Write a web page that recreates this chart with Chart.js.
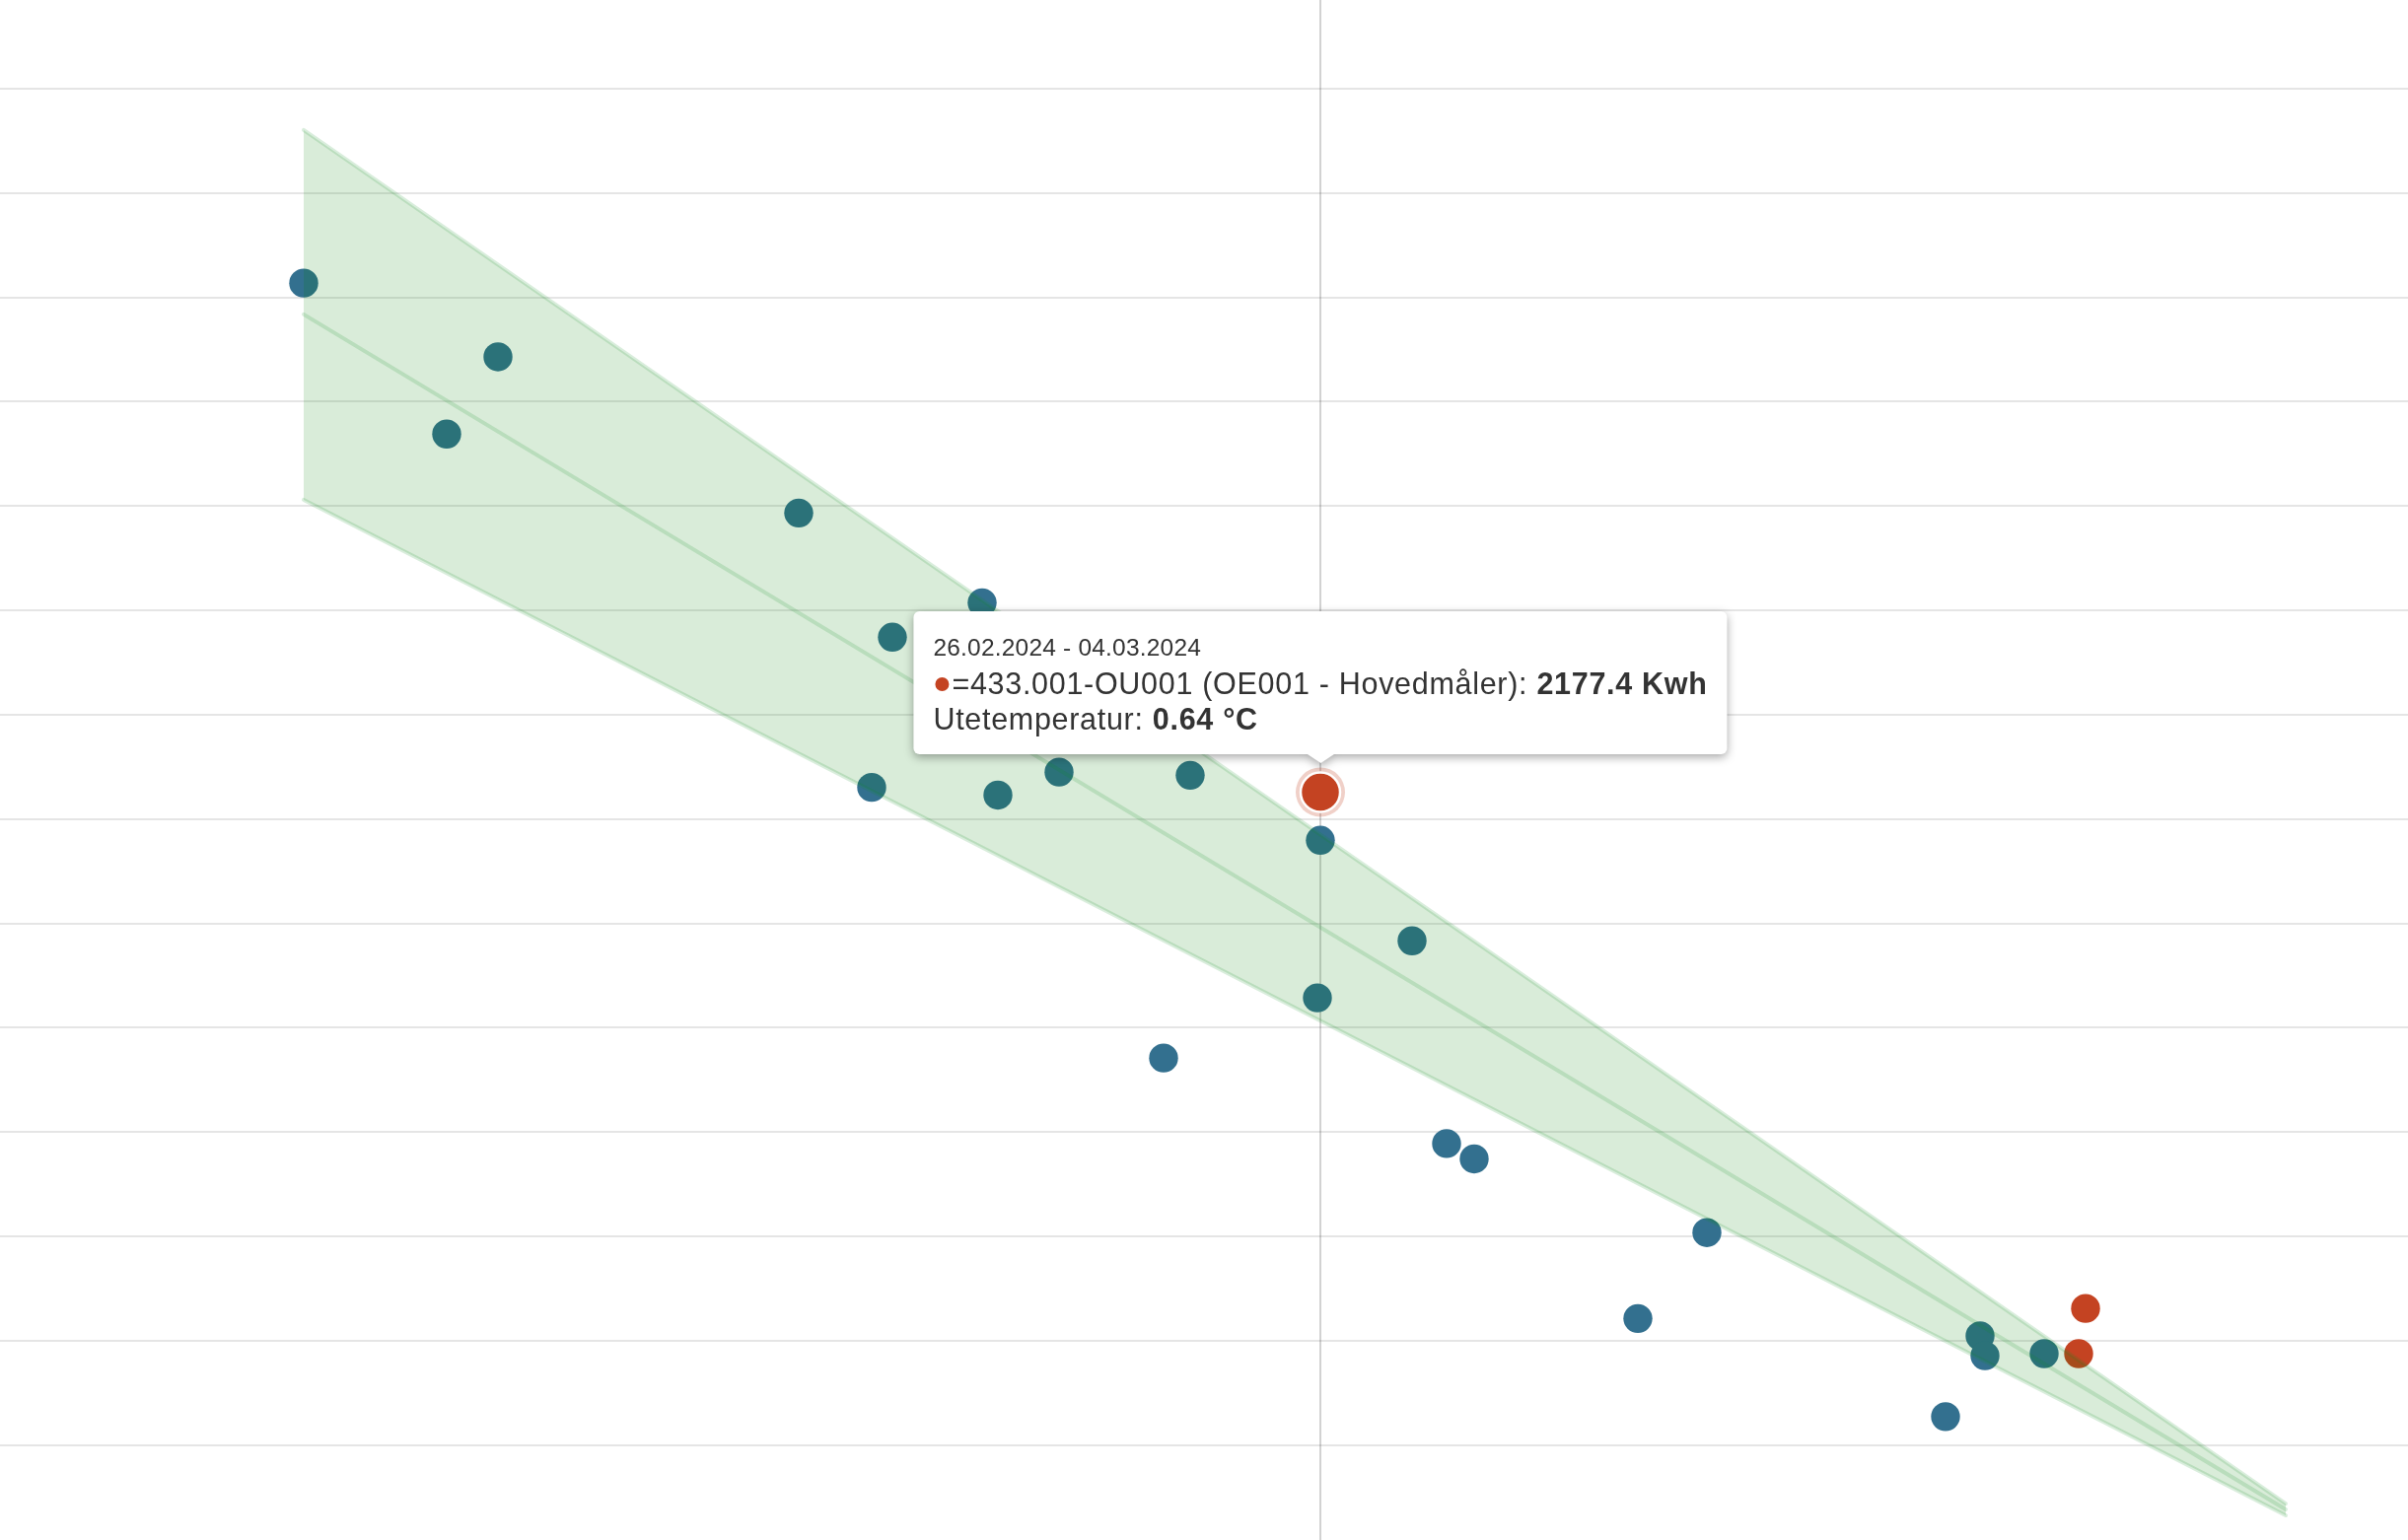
<!DOCTYPE html>
<html>
<head>
<meta charset="utf-8">
<title>Energi mot utetemperatur</title>
<script src="https://cdn.jsdelivr.net/npm/chart.js@4.4.1/dist/chart.umd.min.js"></script>
<style>
  html, body { margin: 0; padding: 0; overflow: hidden; background: #fff; }
  #wrap { position: relative; width: 2442px; height: 1562px; }
  #tip {
    position: absolute; pointer-events: none; opacity: 0;
    transform: translate(-50%, -100%);
    background: #fff; border-radius: 6px; white-space: nowrap;
    padding: 22px 20px 18px 20px; color: #333;
    font-family: "Liberation Sans", Arial, Helvetica, sans-serif;
    filter: drop-shadow(0 3px 5px rgba(0,0,0,0.35));
  }
  #tip .title { font-size: 24.5px; line-height: 30px; letter-spacing: 0.2px; }
  #tip .line { font-size: 30.5px; line-height: 36px; letter-spacing: 0.7px; }
  #tip .title + .line { margin-top: 3px; }
  #tip .dot {
    display: inline-block; width: 14px; height: 14px; border-radius: 50%;
    margin: 0 3px 3px 2px; vertical-align: middle;
  }
  #tip .caret {
    position: absolute; left: 50%; bottom: -9px; margin-left: -15px;
    width: 0; height: 0;
    border-left: 15px solid transparent; border-right: 15px solid transparent;
    border-top: 10px solid #fff;
  }
</style>
</head>
<body>
<div id="wrap">
  <canvas id="energyChart"></canvas>
  <div id="tip"></div>
</div>
<script>
// utetemperatur (°C) og forbruk (kWh) per uke
const blueTemps = [-9.67, -7.70, -8.22, -4.65, -2.79, -3.70, -3.91, -2.63, -2.01, -0.68, 0.64,
  1.57, 0.61, -0.95, 1.92, 2.20, 4.56, 3.86, 7.33, 7.38, 7.98, 6.98];
const blueKwh = [3641, 3429, 3207, 2980, 2722, 2623, 2191, 2169, 2235, 2226, 2039,
  1750, 1586, 1413, 1167, 1123, 911, 664, 614, 557, 563, 382];

const redTemps = [0.64, 8.40, 8.33];
const redKwh = [2177.4, 693, 563];
const redWeeks = ["26.02.2024 - 04.03.2024", "04.03.2024 - 11.03.2024", "11.03.2024 - 18.03.2024"];

// regresjonslinje med avviksbånd
const bandTemps = [-9.67, 10.43];
const bandUpper = [4081, 132];
const bandFit = [3551, 115];
const bandLower = [3018, 98];

// horisontale rutenettlinjer (kWh)
const yTicks = [300, 600, 900, 1200, 1500, 1800, 2100, 2400, 2700, 3000, 3300, 3600, 3900, 4200];

const meterName = "=433.001-OU001 (OE001 - Hovedmåler)";
const blue = "#33708f";
const red = "#c44322";

const toPoints = (xs, ys) => xs.map((x, i) => ({x: x, y: ys[i]}));

const bandLine = {
  type: "line",
  borderColor: "rgba(20, 140, 40, 0.16)",
  borderWidth: 4,
  borderCapStyle: "round",
  pointRadius: 0,
  pointHoverRadius: 0,
  tension: 0
};

const hoverMarks = {
  id: "hoverMarks",
  beforeDatasetsDraw(chart) {
    const active = chart.getActiveElements();
    if (!active.length) return;
    const el = active[0].element;
    const ctx = chart.ctx;
    const area = chart.chartArea;
    ctx.save();
    ctx.strokeStyle = "rgba(0, 0, 0, 0.24)";
    ctx.lineWidth = 1.5;
    ctx.beginPath();
    ctx.moveTo(el.x, area.top);
    ctx.lineTo(el.x, area.bottom);
    ctx.stroke();
    ctx.fillStyle = "rgba(196, 67, 34, 0.25)";
    ctx.beginPath();
    ctx.arc(el.x, el.y, 25, 0, Math.PI * 2);
    ctx.fill();
    ctx.restore();
  }
};

function htmlTooltip(context) {
  const tip = document.getElementById("tip");
  const tooltip = context.tooltip;
  if (tooltip.opacity === 0 || !tooltip.dataPoints || !tooltip.dataPoints.length) {
    tip.style.opacity = 0;
    return;
  }
  const dp = tooltip.dataPoints[0];
  const color = dp.dataset.backgroundColor;
  tip.innerHTML =
    '<div class="title">' + redWeeks[dp.dataIndex] + '</div>' +
    '<div class="line"><span class="dot" style="background:' + color + '"></span>' +
    dp.dataset.label + ': <b>' + dp.raw.y.toFixed(1) + ' Kwh</b></div>' +
    '<div class="line">Utetemperatur: <b>' + dp.raw.x.toFixed(2) + ' °C</b></div>' +
    '<div class="caret"></div>';
  tip.style.left = dp.element.x + "px";
  tip.style.top = (dp.element.y - 38.5) + "px";
  tip.style.opacity = 1;
}

const data = {
  datasets: [
    Object.assign({}, bandLine, {
      label: "Øvre grense",
      data: toPoints(bandTemps, bandUpper),
      fill: "+2",
      backgroundColor: "rgba(0, 128, 0, 0.15)"
    }),
    Object.assign({}, bandLine, {
      label: "Regresjon",
      data: toPoints(bandTemps, bandFit),
      fill: false
    }),
    Object.assign({}, bandLine, {
      label: "Nedre grense",
      data: toPoints(bandTemps, bandLower),
      fill: false
    }),
    {
      label: meterName,
      data: toPoints(blueTemps, blueKwh),
      backgroundColor: blue,
      borderWidth: 0,
      pointRadius: 14.7,
      pointHoverRadius: 14.7
    },
    {
      label: meterName,
      data: toPoints(redTemps, redKwh),
      backgroundColor: red,
      borderWidth: 0,
      pointRadius: 14.7,
      pointHoverRadius: 20,
      pointHoverBorderWidth: 2.5,
      pointHoverBorderColor: "#fff",
      pointHoverBackgroundColor: red
    }
  ]
};

const config = {
  type: "scatter",
  data: data,
  options: {
    responsive: true,
    maintainAspectRatio: false,
    animation: false,
    layout: { padding: 0, autoPadding: false },
    scales: {
      x: { type: "linear", display: false, min: -12.75, max: 11.67 },
      y: {
        type: "linear",
        min: 27.2,
        max: 4455,
        border: { display: false },
        grid: { color: "rgba(0, 0, 0, 0.1)", lineWidth: 2, drawTicks: false },
        ticks: { display: false },
        afterBuildTicks: (scale) => { scale.ticks = yTicks.map(v => ({value: v})); }
      }
    },
    plugins: {
      legend: { display: false },
      tooltip: { enabled: false, external: htmlTooltip }
    }
  },
  plugins: [hoverMarks]
};

const energyChart = new Chart(document.getElementById("energyChart"), config);

const hovered = [{datasetIndex: 4, index: 0}];
energyChart.setActiveElements(hovered);
const el = energyChart.getDatasetMeta(4).data[0];
energyChart.tooltip.setActiveElements(hovered, {x: el.x, y: el.y});
energyChart.update();
</script>
</body>
</html>
